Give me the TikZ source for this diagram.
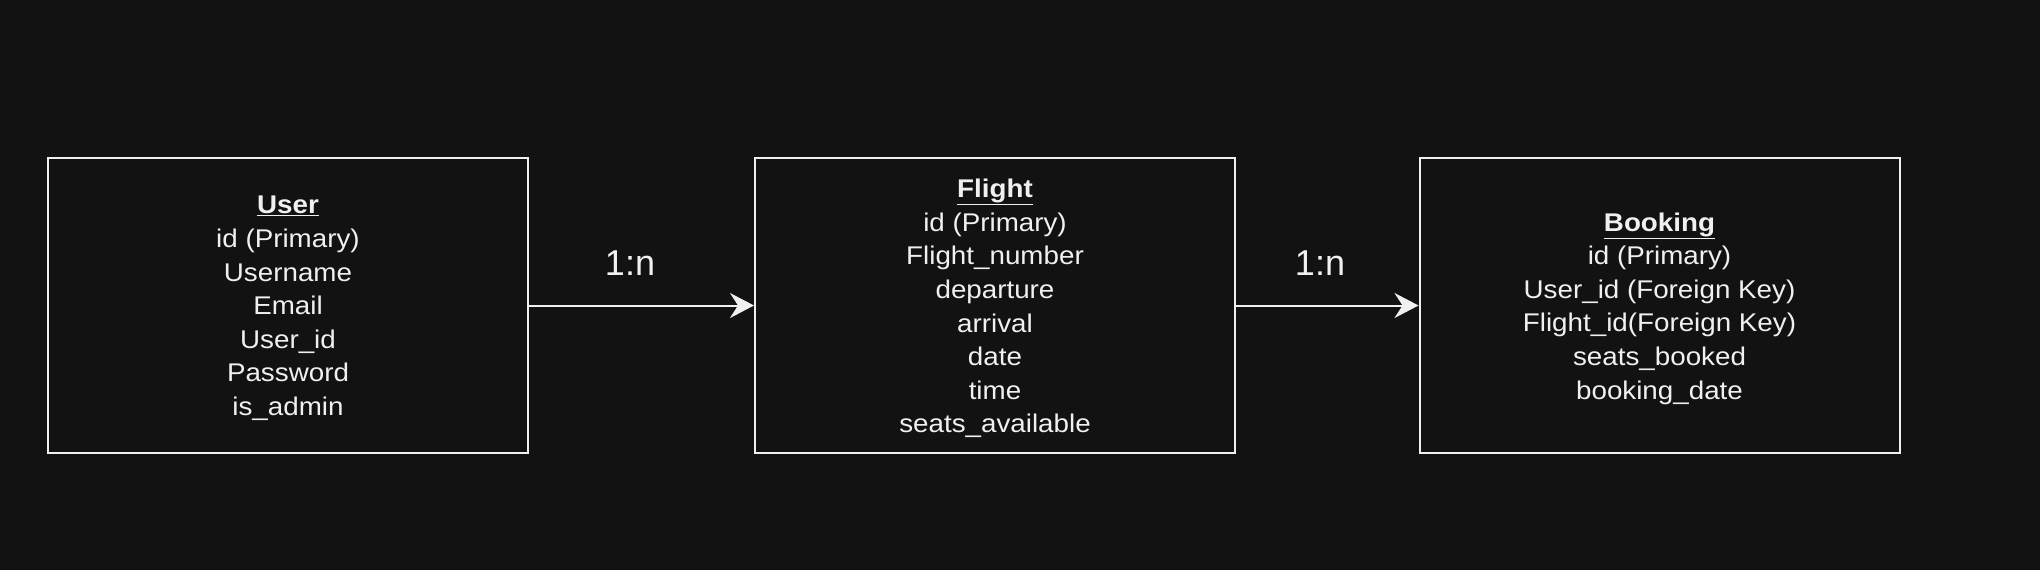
\documentclass[tikz,border=0pt]{standalone}
\usepackage{fontspec}
\setmainfont{Liberation Sans}
\usetikzlibrary{arrows.meta}
\definecolor{bg}{HTML}{121212}
\definecolor{fg}{HTML}{F0F0F0}
\begin{document}
\begin{tikzpicture}[x=1pt,y=-1pt,
  entity/.style={draw=fg, line width=2pt, fill=bg, minimum width=480pt, minimum height=295pt, inner sep=0pt},
  etext/.style={inner sep=0pt, align=center, text=fg, xscale=1.085, transform shape,
    font=\fontsize{25.6}{33.6}\selectfont},
  conn/.style={draw=fg, line width=2pt, -{Stealth[length=24pt,width=25pt,inset=8pt]}},
  card/.style={text=fg, font=\fontsize{36}{40}\selectfont, inner sep=0pt}]
\fill[bg] (0,0) rectangle (2040,570);
\useasboundingbox (0,0) rectangle (2040,570);
\node[entity] (user) at (288,305.5) {};
\node[entity] (flight) at (995,305.5) {};
\node[entity] (booking) at (1659.5,305.5) {};
\node[etext] (usert) at ([yshift=-3pt]user.center) {\underline{\textbf{User}}\\id (Primary)\\Username\\Email\\User\_id\\Password\\is\_admin};
\node[etext] (flightt) at ([yshift=-3pt]flight.center) {\underline{\textbf{Flight}}\\id (Primary)\\Flight\_number\\departure\\arrival\\date\\time\\seats\_available};
\node[etext] (bookingt) at ([yshift=-3pt]booking.center) {\underline{\textbf{Booking}}\\id (Primary)\\User\_id (Foreign Key)\\Flight\_id(Foreign Key)\\seats\_booked\\booking\_date};
\draw[conn] (user.east) -- (flight.west);
\draw[conn] (flight.east) -- (booking.west);
\node[card] (c1) at (630,263) {1:n};
\node[card] (c2) at (1320,263) {1:n};
\end{tikzpicture}
\end{document}
